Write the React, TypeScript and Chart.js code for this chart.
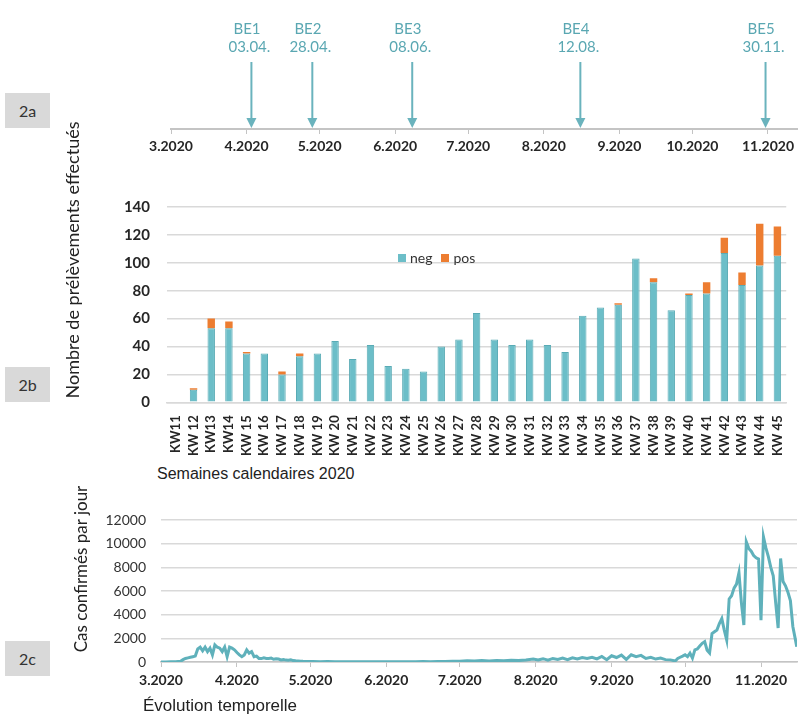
import React, { useEffect, useRef } from "react";
import { Chart, registerables } from "chart.js";
Chart.register(...registerables);

// ---------- data ----------
const monthLabels = ["3.2020", "4.2020", "5.2020", "6.2020", "7.2020", "8.2020", "9.2020", "10.2020", "11.2020"];
const monthStartDays = [0, 31, 61, 92, 122, 153, 184, 214, 245];

const eventNames = ["BE1", "BE2", "BE3", "BE4", "BE5"];
const eventDates = ["03.04.", "28.04.", "08.06.", "12.08.", "30.11."];
const eventDays = [33, 58, 99, 168, 244];

const weekLabels = [
  "KW11", "KW 12", "KW13", "KW14", "KW 15", "KW 16", "KW 17", "KW 18", "KW 19", "KW 20",
  "KW 21", "KW 22", "KW 23", "KW 24", "KW 25", "KW 26", "KW 27", "KW 28", "KW 29", "KW 30",
  "KW 31", "KW 32", "KW 33", "KW 34", "KW 35", "KW 36", "KW 37", "KW 38", "KW 39", "KW 40",
  "KW 41", "KW 42", "KW 43", "KW 44", "KW 45",
];
const negValues = [0, 9, 53, 53, 35, 35, 20, 33, 35, 44, 31, 41, 26, 24, 22, 40, 45, 64, 45, 41, 45, 41, 36, 62, 68, 70, 103, 86, 66, 77, 78, 107, 84, 98, 105];
const posValues = [0, 1, 7, 5, 1, 0, 2, 2, 0, 0, 0, 0, 0, 0, 0, 0, 0, 0, 0, 0, 0, 0, 0, 0, 0, 1, 0, 3, 0, 1, 8, 11, 9, 30, 21];

const caseDays = [
  0, 2, 4, 6, 8, 9, 10, 11, 12, 13, 14, 15, 16, 17, 18, 19, 20, 21, 22, 23, 24, 25, 26, 27, 28, 29, 30,
  31, 32, 33, 34, 35, 36, 37, 38, 39, 40, 41, 42, 43, 44, 45, 46, 47, 48, 49, 50, 51, 52, 53, 54, 55, 56, 57, 58, 60,
  62, 65, 68, 71, 74, 77, 80, 83, 86, 89, 92, 95, 98, 101, 104, 107, 110, 113, 116, 119, 122, 125, 128, 131, 134,
  137, 140, 143, 146, 149, 152, 154, 156, 158, 160, 162, 164, 166, 168, 170, 172, 174, 176, 178, 180, 182, 184,
  186, 188, 190, 192, 194, 196, 198, 200, 202, 204, 206, 208, 210, 211,
  212, 213, 214, 215, 216, 217, 218, 219, 220, 221, 222, 223, 224, 225, 226, 227, 228, 229, 230, 231, 232, 233,
  234, 235, 236, 237, 238, 239, 240, 241, 242, 243, 244, 245, 246, 247, 248, 249, 250, 251, 252, 253, 254, 255,
  256, 257, 258, 259.6,
];
const caseValues = [
  0, 10, 20, 30, 60, 200, 300, 350, 400, 450, 500, 1100, 1250, 950, 1250, 880, 1170, 600, 1450, 1250, 1170, 880, 1260, 450, 1260, 1170, 1030,
  800, 600, 450, 600, 1030, 750, 880, 450, 500, 300, 290, 350, 300, 290, 330, 230, 280, 250, 180, 200, 160, 150, 180, 120, 100, 90, 70, 60, 50,
  40, 30, 40, 20, 30, 20, 30, 20, 20, 30, 20, 30, 20, 30, 20, 40, 30, 50, 40, 70, 60, 100, 80, 120, 90,
  130, 100, 150, 120, 170, 250, 180, 280, 150, 300, 220, 330, 200, 360, 250, 380, 300, 400, 260, 470, 200, 530,
  380, 580, 220, 610, 450, 560, 300, 400, 250, 330, 200, 180, 90, 300,
  400, 500, 610, 450, 750, 330, 1030, 1100, 1350, 1580, 1720, 1000, 760, 2400, 2560, 2700, 3250, 3670, 2700, 1860, 5330, 5600,
  6240, 6580, 7540, 5000, 3120, 10150, 9600, 9360, 9000, 8800, 8700, 3540, 10570, 9640, 8900, 8000, 7280, 5000, 2870, 8750, 6800, 6440,
  5890, 5190, 3000, 1290,
];

// ---------- styles ----------
const TEAL_TEXT = "#5aa7b2";
const TEAL_ARROW = "#6ab3bd";
const NEG_COLOR = "#6cbec8";
const NEG_BORDER = "#59abb5";
const POS_COLOR = "#ed7d31";
const GRID = "#d9d9d9";
const AXIS = "#c4c4c4";
const DARK = "#262626";
const FONT = "Lato";
const CLEAR = "rgba(0,0,0,0)";

Chart.defaults.font.family = FONT;
Chart.defaults.color = DARK;

const eventArrowsPlugin = {
  id: "eventArrows",
  afterDatasetsDraw(chart: any) {
    const { ctx, chartArea, scales } = chart;
    const base = chartArea.bottom;
    ctx.save();
    eventDays.forEach((d, i) => {
      const px = scales.x.getPixelForValue(d);
      ctx.strokeStyle = TEAL_ARROW;
      ctx.lineWidth = 2;
      ctx.beginPath();
      ctx.moveTo(px, base - 67);
      ctx.lineTo(px, base - 10);
      ctx.stroke();
      ctx.fillStyle = TEAL_ARROW;
      ctx.beginPath();
      ctx.moveTo(px - 5, base - 11);
      ctx.lineTo(px + 5, base - 11);
      ctx.lineTo(px, base - 1);
      ctx.closePath();
      ctx.fill();
      ctx.fillStyle = TEAL_TEXT;
      ctx.font = `15px ${FONT}`;
      ctx.textBaseline = "middle";
      ctx.textAlign = "center";
      const dateW = ctx.measureText(eventDates[i]).width;
      const dateCx = px - 2;
      ctx.fillText(eventDates[i], dateCx, base - 82);
      ctx.textAlign = "left";
      ctx.fillText(eventNames[i], dateCx - dateW / 2 + 5, base - 100);
    });
    ctx.restore();
  },
};

const monthTicks = (scale: any) => {
  scale.ticks = monthStartDays.map((v) => ({ value: v }));
};

function Box({ label, top }: { label: string; top: number }) {
  return (
    <div
      style={{
        position: "absolute", left: 5, top, width: 45, height: 35, background: "#d9d9d9",
        display: "flex", alignItems: "center", justifyContent: "center",
        fontFamily: FONT, fontSize: 16, color: "#333",
      }}
    >
      {label}
    </div>
  );
}

function VText({ text, cx, cy, size }: { text: string; cx: number; cy: number; size: number }) {
  return (
    <div
      style={{
        position: "absolute", left: cx, top: cy, transform: "translate(-50%, -50%) rotate(-90deg)",
        whiteSpace: "nowrap", fontFamily: FONT, fontSize: size, color: "#222", lineHeight: 1,
      }}
    >
      {text}
    </div>
  );
}

export default function App() {
  const refA = useRef<HTMLCanvasElement>(null);
  const refB = useRef<HTMLCanvasElement>(null);
  const refC = useRef<HTMLCanvasElement>(null);

  useEffect(() => {
    const chartA = new Chart(refA.current!, {
      type: "scatter",
      data: { datasets: [{ data: [], showLine: false }] },
      options: {
        responsive: false,
        animation: false,
        layout: { padding: { left: 171, right: 0, top: 10, bottom: 0 } },
        plugins: { legend: { display: false }, tooltip: { enabled: false } },
        scales: {
          x: {
            type: "linear", min: 0, max: 257,
            afterBuildTicks: monthTicks,
            afterFit: (s: any) => { s.height = 36; },
            grid: { drawOnChartArea: false, drawTicks: true, tickLength: 5, color: AXIS },
            border: { display: true, color: AXIS, width: 2 },
            ticks: {
              autoSkip: false, maxRotation: 0, padding: 4, color: DARK,
              font: { size: 14, weight: "bold" },
              callback: (_v: any, i: number) => monthLabels[i],
            },
          },
          y: { display: false, min: 0, max: 1 },
        },
      },
      plugins: [eventArrowsPlugin],
    } as any);

    const chartB = new Chart(refB.current!, {
      type: "bar",
      data: {
        labels: weekLabels,
        datasets: [
          { label: "neg", data: negValues, backgroundColor: NEG_COLOR, borderColor: NEG_BORDER, borderWidth: 1, barPercentage: 0.42, categoryPercentage: 1 },
          { label: "pos", data: posValues, backgroundColor: POS_COLOR, borderWidth: 0, barPercentage: 0.42, categoryPercentage: 1 },
        ],
      },
      options: {
        responsive: false,
        animation: false,
        layout: { padding: { left: 0, right: 0, top: 17, bottom: 0 } },
        plugins: { legend: { display: false }, tooltip: { enabled: false } },
        scales: {
          x: {
            stacked: true,
            afterFit: (s: any) => { s.height = 57.7; },
            grid: { display: false },
            border: { display: true, color: GRID, width: 1.5 },
            ticks: { autoSkip: false, minRotation: 90, maxRotation: 90, padding: 5, color: DARK, font: { size: 13, weight: "bold" } },
          },
          y: {
            stacked: true, min: 0, max: 140,
            afterFit: (s: any) => { s.width = 167; },
            grid: { color: GRID, lineWidth: 1.5, drawTicks: true, tickLength: 17, tickColor: CLEAR },
            border: { display: false },
            ticks: { stepSize: 20, padding: 0, color: DARK, font: { size: 15, weight: "bold" } },
          },
        },
      },
    } as any);

    const chartC = new Chart(refC.current!, {
      type: "line",
      data: {
        datasets: [
          {
            label: "Cas confirmés par jour",
            data: caseDays.map((d, i) => ({ x: d, y: caseValues[i] })),
            borderColor: "#5fb1bb",
            borderWidth: 3,
            pointRadius: 0,
            tension: 0,
            fill: false,
          },
        ],
      },
      options: {
        responsive: false,
        animation: false,
        layout: { padding: { left: 0, right: 1, top: 20, bottom: 0 } },
        plugins: { legend: { display: false }, tooltip: { enabled: false } },
        scales: {
          x: {
            type: "linear", min: 0, max: 259.7,
            afterBuildTicks: monthTicks,
            afterFit: (s: any) => { s.height = 38; },
            grid: { drawOnChartArea: false, drawTicks: true, tickLength: 5, color: AXIS },
            border: { display: true, color: AXIS, width: 1.5 },
            ticks: {
              autoSkip: false, maxRotation: 0, padding: 5, color: DARK,
              font: { size: 14, weight: "bold" },
              callback: (_v: any, i: number) => monthLabels[i],
            },
          },
          y: {
            min: 0, max: 12000,
            afterFit: (s: any) => { s.width = 161; },
            grid: { color: GRID, lineWidth: 1.5, drawTicks: true, tickLength: 15, tickColor: CLEAR },
            border: { display: false },
            ticks: { stepSize: 2000, padding: 0, color: "#333", font: { size: 14 }, callback: (v: any) => String(v) },
          },
        },
      },
    } as any);

    return () => {
      chartA.destroy();
      chartB.destroy();
      chartC.destroy();
    };
  }, []);

  return (
    <div style={{ position: "absolute", left: 0, top: 0, width: 798, height: 715, background: "#fff", overflow: "hidden" }}>
      <canvas ref={refA} width={798} height={165} style={{ position: "absolute", left: 0, top: 0, display: "block" }} />
      <canvas ref={refB} width={798} height={460 - 190} style={{ position: "absolute", left: 0, top: 190, display: "block" }} />
      <canvas ref={refC} width={798} height={200} style={{ position: "absolute", left: 0, top: 500, display: "block" }} />

      <Box label="2a" top={93} />
      <Box label="2b" top={367} />
      <Box label="2c" top={641} />

      <VText text="Nombre de prélèvements effectués" cx={72} cy={260} size={18} />
      <VText text="Cas confirmés par jour" cx={80} cy={569} size={17} />

      <div style={{ position: "absolute", left: 157, top: 464, fontFamily: "'Liberation Sans', Arial, sans-serif", fontSize: 16, color: "#222", whiteSpace: "nowrap", lineHeight: "20px" }}>
        Semaines calendaires 2020
      </div>
      <div style={{ position: "absolute", left: 143, top: 696, fontFamily: "'Liberation Sans', Arial, sans-serif", fontSize: 17, color: "#222", whiteSpace: "nowrap", lineHeight: "20px" }}>
        Évolution temporelle
      </div>

      <div style={{ position: "absolute", left: 398, top: 250, display: "flex", alignItems: "center", fontFamily: FONT, fontSize: 14, color: "#333", lineHeight: "16px" }}>
        <span style={{ display: "inline-block", width: 8, height: 8, background: NEG_COLOR, marginRight: 4 }} />
        <span style={{ marginRight: 9 }}>neg</span>
        <span style={{ display: "inline-block", width: 8, height: 8, background: POS_COLOR, marginRight: 4 }} />
        <span>pos</span>
      </div>
    </div>
  );
}
